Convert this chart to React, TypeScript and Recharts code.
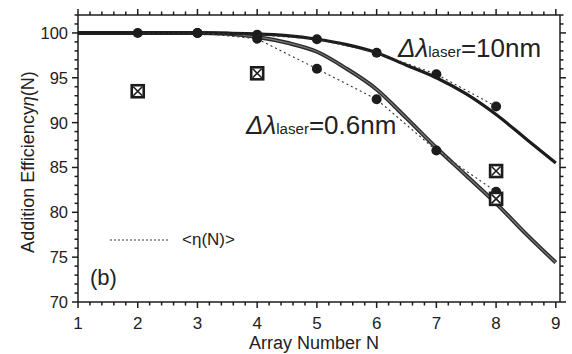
import React from "react";
import { ComposedChart, Line, Scatter, XAxis, YAxis, Legend } from "recharts";

// smooth model curves
const curveN = [1, 2, 3, 3.5, 4, 4.5, 5, 5.5, 6, 6.5, 7, 7.5, 8, 8.5, 9];
const curve10nm = [100, 100, 100, 99.97, 99.9, 99.7, 99.3, 98.7, 97.8, 96.4, 95.0, 93.2, 90.9, 88.2, 85.5];
const curve06nm = [100, 100, 100, 99.9, 99.55, 98.9, 97.9, 96.0, 93.7, 90.5, 87.2, 84.1, 81.0, 77.6, 74.4];

// <eta(N)> points (dots + dotted line)
const avgN10 = [2, 3, 4, 5, 6, 7, 8];
const avg10nm = [100, 100, 99.8, 99.3, 97.8, 95.4, 91.8];
const avgN06 = [3, 4, 5, 6, 7, 8];
const avg06nm = [100, 99.35, 96.0, 92.6, 86.9, 82.3];

// crossed squares
const boxN = [2, 4, 8, 8];
const boxEta = [93.5, 95.5, 84.6, 81.5];

const xMajor = [1, 2, 3, 4, 5, 6, 7, 8, 9];
const yMajor = [70, 75, 80, 85, 90, 95, 100];

const FONT = "'Liberation Sans', Arial, sans-serif";
const INK = "#1c1c1c";
const X_DOMAIN: [number, number] = [1, 9.07];
const Y_DOMAIN: [number, number] = [70, 102];

const zip = (ns: number[], vs: number[]) => ns.map((N, i) => ({ N, eta: vs[i] }));

const xTicks: number[] = [];
xMajor.forEach((m, i) => {
  if (i === xMajor.length - 1) { xTicks.push(m); return; }
  for (let k = 0; k < 5; k++) xTicks.push(Math.round((m + k * 0.2) * 10) / 10);
});
const yTicks: number[] = [];
yMajor.forEach((m, i) => {
  if (i === yMajor.length - 1) { yTicks.push(m, m + 1, m + 2); return; }
  for (let k = 0; k < 5; k++) yTicks.push(m + k);
});

// tick marks only (one component per side)
const TickMark = (props: any) => {
  const { x, y, payload, side } = props;
  const len = (side === "bottom" || side === "top" ? xMajor : yMajor).includes(payload.value) ? 6 : 3.5;
  const d =
    side === "bottom" ? [x, y, x, y + len] :
    side === "top" ? [x, y, x, y - len] :
    side === "left" ? [x, y, x - len, y] : [x, y, x + len, y];
  return <line x1={d[0]} y1={d[1]} x2={d[2]} y2={d[3]} stroke={INK} strokeWidth={1.5} />;
};

const XLabel = (props: any) => (
  <text x={props.x} y={props.y + 26} textAnchor="middle" fontSize={17} fontFamily={FONT} fill="#222">
    {props.payload.value}
  </text>
);

const YLabel = (props: any) => (
  <text x={props.x - 9} y={props.y} dy="0.36em" textAnchor="end" fontSize={16.5} fontFamily={FONT} fill="#222">
    {props.payload.value}
  </text>
);

const Dot = (props: any) => <circle cx={props.cx} cy={props.cy} r={5} fill={INK} />;

const CrossBox = (props: any) => {
  const { cx, cy } = props;
  const h = 6;
  return (
    <g>
      <rect x={cx - h} y={cy - h} width={2 * h} height={2 * h} fill="#fff" stroke={INK} strokeWidth={2.6} />
      <line x1={cx - h + 1.5} y1={cy - h + 1.5} x2={cx + h - 1.5} y2={cy + h - 1.5} stroke={INK} strokeWidth={1.6} />
      <line x1={cx + h - 1.5} y1={cy - h + 1.5} x2={cx - h + 1.5} y2={cy + h - 1.5} stroke={INK} strokeWidth={1.6} />
    </g>
  );
};

const LegendBox = () => (
  <div style={{ display: "flex", alignItems: "center", fontFamily: FONT, fontSize: 17, color: "#222" }}>
    <svg width={62} height={6}>
      <line x1={0} y1={3} x2={60} y2={3} stroke="#333" strokeWidth={1.2} strokeDasharray="2 2" />
    </svg>
    <span style={{ marginLeft: 10 }}>&lt;η(N)&gt;</span>
  </div>
);

const Annot = ({ left, top, size, value }: { left: number; top: number; size: number; value: string }) => (
  <div style={{ position: "absolute", left, top, fontFamily: FONT, fontSize: size, lineHeight: 1, color: "#222", whiteSpace: "nowrap" }}>
    <i>Δλ</i>
    <span style={{ fontSize: size * 0.58 }}>laser</span>
    {value}
  </div>
);

const axisLine = { stroke: INK, strokeWidth: 1.5 };

export default function App() {
  return (
    <div style={{ position: "absolute", left: 0, top: 0, width: 572, height: 354, background: "#fff" }}>
      <ComposedChart width={572} height={354} margin={{ top: 14, right: 11, bottom: 0, left: 0 }}>
        {/* tick-mark axes, hugging the plot box */}
        <XAxis xAxisId={0} dataKey="N" type="number" domain={X_DOMAIN} ticks={xTicks} interval={0}
          tickSize={0} tickMargin={0} tickLine={false} tick={<TickMark side="bottom" />} height={1} axisLine={axisLine} />
        <XAxis xAxisId="top" orientation="top" dataKey="N" type="number" domain={X_DOMAIN} ticks={xTicks} interval={0}
          tickSize={0} tickMargin={0} tickLine={false} tick={<TickMark side="top" />} height={1} axisLine={axisLine} />
        <YAxis yAxisId={0} dataKey="eta" type="number" domain={Y_DOMAIN} ticks={yTicks} interval={0}
          tickSize={0} tickMargin={0} tickLine={false} tick={<TickMark side="left" />} width={1} axisLine={axisLine} />
        <YAxis yAxisId="right" orientation="right" dataKey="eta" type="number" domain={Y_DOMAIN} ticks={yTicks} interval={0}
          tickSize={0} tickMargin={0} tickLine={false} tick={<TickMark side="right" />} width={1} axisLine={axisLine} />
        {/* label axes */}
        <XAxis
          xAxisId="labels"
          dataKey="N"
          type="number"
          domain={X_DOMAIN}
          ticks={xMajor}
          interval={0}
          tickSize={0}
          tickMargin={0}
          tickLine={false}
          axisLine={false}
          tick={<XLabel />}
          height={51}
          label={() => (
            <text x={314} y={349} textAnchor="middle" fontSize={18} fontFamily={FONT} fill="#222">
              Array Number N
            </text>
          )}
        />
        <YAxis
          yAxisId="labels"
          dataKey="eta"
          type="number"
          domain={Y_DOMAIN}
          ticks={yMajor}
          interval={0}
          tickSize={0}
          tickMargin={0}
          tickLine={false}
          axisLine={false}
          tick={<YLabel />}
          width={77}
          label={() => (
            <text x={34} y={162} transform="rotate(-90 34 162)" textAnchor="middle" fontSize={18} fontFamily={FONT} fill="#222">
              Addition Efficiency<tspan fontStyle="italic">η</tspan>(N)
            </text>
          )}
        />
        <Legend
          layout="horizontal"
          verticalAlign="middle"
          align="center"
          content={() => <LegendBox />}
          wrapperStyle={{ left: 110, top: 230, width: 160, height: 20 }}
        />
        {/* invisible series so the extra axes are drawn */}
        <Line data={zip(curveN, curve10nm)} dataKey="eta" xAxisId="top" yAxisId="right" stroke="none"
          dot={false} activeDot={false} legendType="none" isAnimationActive={false} />
        <Line data={zip(curveN, curve10nm)} dataKey="eta" xAxisId="labels" yAxisId="labels" stroke="none"
          dot={false} activeDot={false} legendType="none" isAnimationActive={false} />

        <Line data={zip(curveN, curve06nm)} dataKey="eta" type="monotone" stroke="#2a2a2a" strokeWidth={4}
          dot={false} activeDot={false} isAnimationActive={false} />
        <Line data={zip(curveN, curve06nm)} dataKey="eta" type="monotone" stroke="#777" strokeWidth={1.3}
          dot={false} activeDot={false} isAnimationActive={false} />
        <Line data={zip(curveN, curve10nm)} dataKey="eta" type="monotone" stroke={INK} strokeWidth={3.2}
          dot={false} activeDot={false} isAnimationActive={false} />
        <Line data={zip(avgN10, avg10nm)} dataKey="eta" type="linear" stroke="#333" strokeWidth={1.1} strokeDasharray="2 3"
          dot={false} activeDot={false} isAnimationActive={false} />
        <Line data={zip(avgN06, avg06nm)} dataKey="eta" type="linear" stroke="#333" strokeWidth={1.1} strokeDasharray="2 3"
          dot={false} activeDot={false} isAnimationActive={false} />
        <Scatter data={zip(avgN10, avg10nm)} shape={<Dot />} isAnimationActive={false} />
        <Scatter data={zip(avgN06, avg06nm)} shape={<Dot />} isAnimationActive={false} />
        <Scatter data={zip(boxN, boxEta)} shape={<CrossBox />} isAnimationActive={false} />
      </ComposedChart>
      <Annot left={398} top={35} size={26} value="=10nm" />
      <Annot left={246} top={111.5} size={26} value="=0.6nm" />
      <div style={{ position: "absolute", left: 90, top: 267, fontFamily: FONT, fontSize: 22, lineHeight: 1, color: "#222" }}>
        (b)
      </div>
    </div>
  );
}
